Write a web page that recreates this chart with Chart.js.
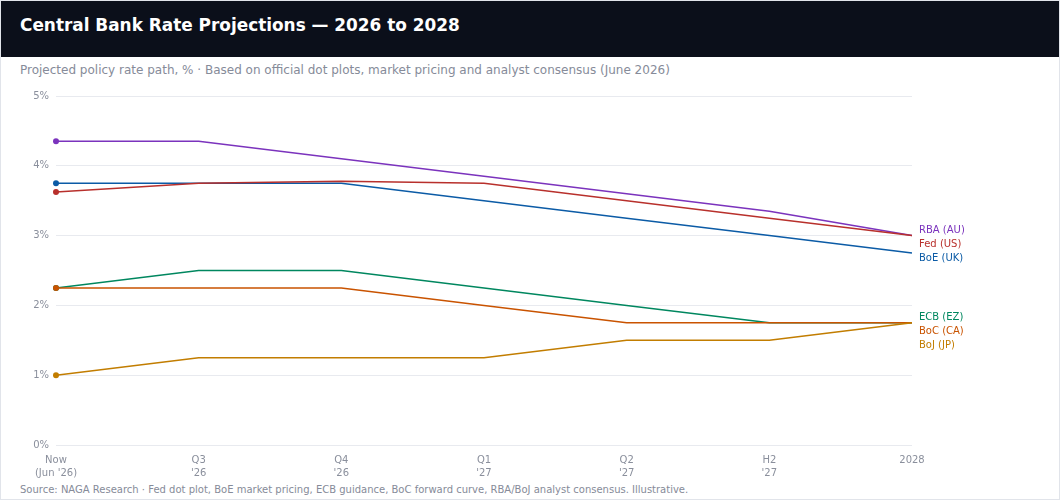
<!DOCTYPE html>
<html>
<head>
<meta charset="utf-8">
<script src="https://cdn.jsdelivr.net/npm/chart.js@4"></script>
<style>
  html, body { margin: 0; padding: 0; background: #fff; }
  body { font-family: "DejaVu Sans", sans-serif; }
  .frame {
    position: relative; width: 1060px; height: 500px; box-sizing: border-box;
    border: 1px solid #e1e4ea; overflow: hidden; background: #fff;
  }
  .head {
    position: absolute; left: 0; top: 0; right: 0; height: 56px; background: #0b0f1a;
  }
  .head h1 {
    margin: 0; position: absolute; left: 19px; top: 14px;
    font-size: 16.9px; font-weight: bold; color: #fff;
  }
  .sub {
    position: absolute; left: 19px; top: 62px; font-size: 12px; color: #868b99;
  }
  .plot { position: absolute; left: 0; top: 80px; width: 1058px; height: 400px; }
  .src {
    position: absolute; left: 19px; top: 483px; font-size: 10px; color: #868b99;
  }
</style>
</head>
<body>
<div class="frame">
  <div class="head"><h1>Central Bank Rate Projections — 2026 to 2028</h1></div>
  <div class="sub">Projected policy rate path, % · Based on official dot plots, market pricing and analyst consensus (June 2026)</div>
  <div class="plot"><canvas id="rates"></canvas></div>
  <div class="src">Source: NAGA Research · Fed dot plot, BoE market pricing, ECB guidance, BoC forward curve, RBA/BoJ analyst consensus. Illustrative.</div>
</div>

<script>
// x-axis periods (two-line tick labels)
const periods = [['Now', "(Jun '26)"], ['Q3', "'26"], ['Q4', "'26"], ['Q1', "'27"], ['Q2', "'27"], ['H2', "'27"], ['2028']];

// projected policy rates, %
const rbaRates = [4.35, 4.35, 4.10, 3.85, 3.60, 3.35, 3.00];
const fedRates = [3.625, 3.75, 3.78, 3.75, 3.50, 3.25, 3.00];
const boeRates = [3.75, 3.75, 3.75, 3.50, 3.25, 3.00, 2.75];
const ecbRates = [2.25, 2.50, 2.50, 2.25, 2.00, 1.75, 1.75];
const bocRates = [2.25, 2.25, 2.25, 2.00, 1.75, 1.75, 1.75];
const bojRates = [1.00, 1.25, 1.25, 1.25, 1.50, 1.50, 1.75];

const yTicks = [0, 1, 2, 3, 4, 5];

const BANK_COLORS = {
    rba: '#7b33bd',
    fed: '#b8302c',
    boe: '#0b5ba6',
    ecb: '#00875f',
    boc: '#c95300',
    boj: '#c27d00'
};

function series(label, data, color, rank) {
    return {
        label: label,
        data: data,
        borderColor: color,
        backgroundColor: color,
        borderWidth: 1.5,
        tension: 0,
        pointRadius: ctx => ctx.dataIndex === 0 ? 3 : 0,
        pointHoverRadius: 0,
        pointBorderWidth: 0,
        rank: rank
    };
}

// draws the bank names at the right end of each line, pushed apart when they collide
const endLabels = {
    id: 'endLabels',
    afterDatasetsDraw(chart) {
        const ctx = chart.ctx;
        const area = chart.chartArea;
        const items = chart.data.datasets.map((ds, i) => {
            const meta = chart.getDatasetMeta(i);
            const pt = meta.data[meta.data.length - 1];
            return { text: ds.label, color: ds.borderColor, y: pt.y - 5, rank: ds.rank };
        });
        items.sort((a, b) => (a.y - b.y) || (a.rank - b.rank));
        for (let i = 1; i < items.length; i++) {
            if (items[i].y < items[i - 1].y + 14) items[i].y = items[i - 1].y + 14;
        }
        ctx.save();
        ctx.font = '10px "DejaVu Sans"';
        ctx.textBaseline = 'middle';
        ctx.textAlign = 'left';
        items.forEach(it => {
            ctx.fillStyle = it.color;
            ctx.fillText(it.text, area.right + 7, it.y);
        });
        ctx.restore();
    }
};

new Chart(document.getElementById('rates'), {
    type: 'line',
    data: {
        labels: periods,
        datasets: [
            series('BoJ (JP)', bojRates, BANK_COLORS.boj, 6),
            series('Fed (US)', fedRates, BANK_COLORS.fed, 2),
            series('BoE (UK)', boeRates, BANK_COLORS.boe, 3),
            series('BoC (CA)', bocRates, BANK_COLORS.boc, 5),
            series('ECB (EZ)', ecbRates, BANK_COLORS.ecb, 4),
            series('RBA (AU)', rbaRates, BANK_COLORS.rba, 1)
        ]
    },
    options: {
        responsive: true,
        maintainAspectRatio: false,
        animation: false,
        layout: { padding: { top: 15, right: 147, bottom: 0, left: 0 } },
        plugins: {
            legend: { display: false },
            tooltip: { enabled: false }
        },
        scales: {
            x: {
                offset: false,
                grid: { display: false },
                border: { display: false },
                ticks: {
                    color: '#8a8f9c',
                    font: { family: 'DejaVu Sans', size: 10, lineHeight: 1.3 },
                    maxRotation: 0,
                    autoSkip: false,
                    padding: 1
                }
            },
            y: {
                min: 0,
                max: 5,
                afterFit: scale => { scale.width = 55; },
                afterBuildTicks: scale => { scale.ticks = yTicks.map(v => ({ value: v })); },
                grid: { color: '#e8eaef', lineWidth: 1, drawTicks: false },
                border: { display: false },
                ticks: {
                    color: '#8a8f9c',
                    font: { family: 'DejaVu Sans', size: 10 },
                    padding: 7,
                    callback: v => v + '%'
                }
            }
        }
    },
    plugins: [endLabels]
});
</script>
</body>
</html>
